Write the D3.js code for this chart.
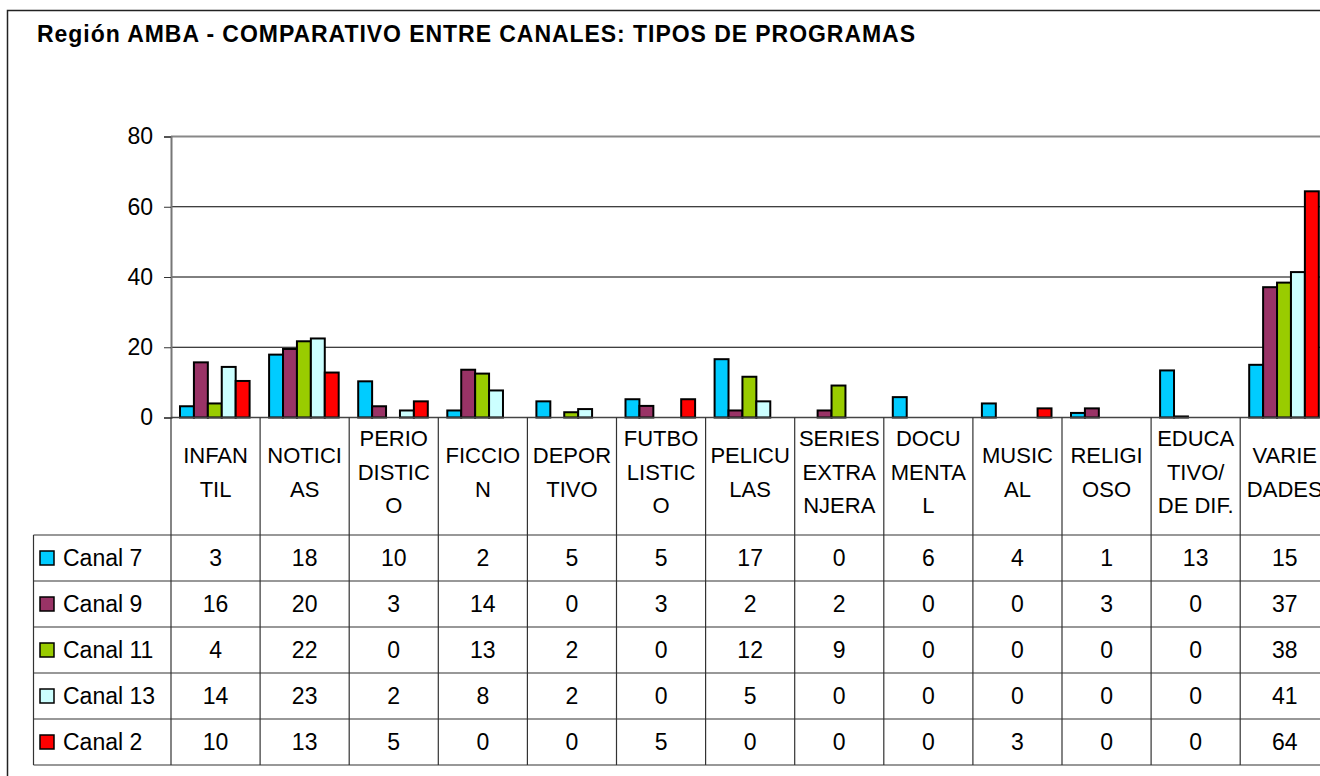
<!DOCTYPE html>
<html><head><meta charset="utf-8">
<script src="https://cdn.jsdelivr.net/npm/d3@7"></script>
<style>
html,body{margin:0;padding:0;background:#fff;}
svg{display:block;font-family:"Liberation Sans",Arial,sans-serif;}
</style></head>
<body>
<svg id="chart" width="1320" height="776"></svg>
<script>
const title = "Región AMBA - COMPARATIVO ENTRE CANALES: TIPOS DE PROGRAMAS";
const categories = ["INFANTIL","NOTICIAS","PERIODISTICO","FICCION","DEPORTIVO","FUTBOLISTICO","PELICULAS","SERIES EXTRANJERA","DOCUMENTAL","MUSICAL","RELIGIOSO","EDUCATIVO/ DE DIF.","VARIEDADES"];
const categoryLines = [["INFAN","TIL"],["NOTICI","AS"],["PERIO","DISTIC","O"],["FICCIO","N"],["DEPOR","TIVO"],["FUTBO","LISTIC","O"],["PELICU","LAS"],["SERIES","EXTRA","NJERA"],["DOCU","MENTA","L"],["MUSIC","AL"],["RELIGI","OSO"],["EDUCA","TIVO/","DE DIF."],["VARIE","DADES"]];
const seriesNames = ["Canal 7","Canal 9","Canal 11","Canal 13","Canal 2"];
const seriesColors = ["#00CCFF","#993366","#99CC00","#CCFFFF","#FF0000"];
const canal7  = [3.2, 17.9, 10.3, 2.0, 4.6, 5.2, 16.6, 0, 5.8, 4.0, 1.3, 13.4, 15.0];
const canal9  = [15.7, 19.5, 3.2, 13.6, 0, 3.3, 2.0, 2.0, 0, 0, 2.6, 0.3, 37.1];
const canal11 = [4.0, 21.7, 0, 12.5, 1.5, 0, 11.6, 9.1, 0, 0, 0, 0, 38.4];
const canal13 = [14.4, 22.5, 2.0, 7.7, 2.4, 0, 4.6, 0, 0, 0, 0, 0, 41.4];
const canal2  = [10.4, 12.8, 4.6, 0, 0, 5.2, 0, 0, 0, 2.6, 0, 0, 64.4];
const seriesValues = [canal7, canal9, canal11, canal13, canal2];
const yTicks = [0, 20, 40, 60, 80];

const svg = d3.select("#chart");
const FONT = 23, CATFONT = 22;

// outer frame
svg.append("rect").attr("x",7.5).attr("y",10.5).attr("width",1400).attr("height",800)
  .attr("fill","none").attr("stroke","#222").attr("stroke-width",1.5);

// title
svg.append("text").attr("x",37).attr("y",42).attr("font-weight","bold").attr("font-size",23)
  .attr("textLength",878).attr("lengthAdjust","spacing").attr("fill","#000").text(title);

const plotLeft = 171, catW = 89.1;
const plotRight = plotLeft + catW*categories.length;
const x = d3.scaleBand().domain(categories).range([plotLeft, plotRight]).padding(0);
const xs = d3.scaleBand().domain(seriesNames).range([9, catW-10.5]).padding(0);
const y = d3.scaleLinear().domain([0,80]).range([417.5,136.5]);

// gridlines
svg.append("g").selectAll("line").data(yTicks.filter(t=>t>0)).join("line")
  .attr("x1",plotLeft).attr("x2",plotRight).attr("y1",d=>y(d)).attr("y2",d=>y(d))
  .attr("stroke",d=>d===80?"#888":"#000").attr("stroke-width",d=>d===80?2:1);

// y axis
const yAxis = d3.axisLeft(y).tickValues(yTicks).tickSize(7).tickPadding(11).tickFormat(d3.format("d"));
const ga = svg.append("g").attr("transform",`translate(${plotLeft},0)`).call(yAxis);
ga.select(".domain").attr("stroke","#777").attr("stroke-width",2);
ga.selectAll(".tick line").attr("stroke","#333");
ga.selectAll(".tick text").attr("font-size",FONT).attr("font-family","Liberation Sans, Arial, sans-serif").attr("fill","#000");

// bars
const groups = svg.append("g").selectAll("g").data(categories).join("g")
  .attr("transform",d=>`translate(${x(d)},0)`);
groups.selectAll("rect").data((c,ci)=>seriesNames.map((s,si)=>({s,si,v:seriesValues[si][ci]})).filter(d=>d.v>0))
  .join("rect")
  .attr("x",d=>xs(d.s)).attr("width",xs.bandwidth())
  .attr("y",d=>y(d.v)).attr("height",d=>y(0)-y(d.v))
  .attr("fill",d=>seriesColors[d.si]).attr("stroke","#000").attr("stroke-width",2);

// x axis line
svg.append("line").attr("x1",plotLeft).attr("x2",plotRight).attr("y1",y(0)).attr("y2",y(0))
  .attr("stroke","#444").attr("stroke-width",1.5);

// data table
const tableTop = 535, rowH = 46, tableLeft = 33.5;
const tableBottom = tableTop + rowH*seriesNames.length;
const grid = svg.append("g").attr("stroke","#333").attr("stroke-width",1.2);
grid.selectAll("line.v").data(d3.range(categories.length+1)).join("line").attr("class","v")
  .attr("x1",i=>plotLeft+i*catW).attr("x2",i=>plotLeft+i*catW)
  .attr("y1",y(0)).attr("y2",tableBottom);
grid.append("line").attr("x1",tableLeft).attr("x2",tableLeft).attr("y1",tableTop).attr("y2",tableBottom);
grid.selectAll("line.h").data(d3.range(seriesNames.length+1)).join("line").attr("class","h")
  .attr("x1",tableLeft).attr("x2",plotRight)
  .attr("y1",i=>tableTop+i*rowH).attr("y2",i=>tableTop+i*rowH);

// category header text
const lineH = 33.5, headCenter = 472;
svg.append("g").selectAll("text").data(categories).join("text")
  .attr("text-anchor","middle").attr("font-size",CATFONT).attr("fill","#000")
  .each(function(c,ci){
    const lines = categoryLines[ci];
    const t = d3.select(this);
    const y0 = headCenter - (lines.length-1)*lineH/2;
    lines.forEach((ln,li)=>{
      t.append("tspan").attr("x",x(c)+catW/2).attr("y",y0+li*lineH).attr("dy","0.36em").text(ln);
    });
  });

// legend rows
const rows = svg.append("g").selectAll("g").data(seriesNames).join("g")
  .attr("transform",(d,i)=>`translate(0,${tableTop+i*rowH+rowH/2})`);
rows.append("rect").attr("x",40).attr("y",-7).attr("width",14).attr("height",14)
  .attr("fill",(d,i)=>seriesColors[i]).attr("stroke","#000").attr("stroke-width",1.5);
rows.append("text").attr("x",63).attr("dy","0.36em").attr("font-size",FONT).attr("fill","#000").text(d=>d);
rows.selectAll("text.val").data((s,si)=>categories.map((c,ci)=>({c,v:Math.round(seriesValues[si][ci])})))
  .join("text").attr("class","val")
  .attr("x",d=>x(d.c)+catW/2).attr("dy","0.36em").attr("text-anchor","middle")
  .attr("font-size",FONT).attr("fill","#000").text(d=>d.v);
</script>
</body></html>
